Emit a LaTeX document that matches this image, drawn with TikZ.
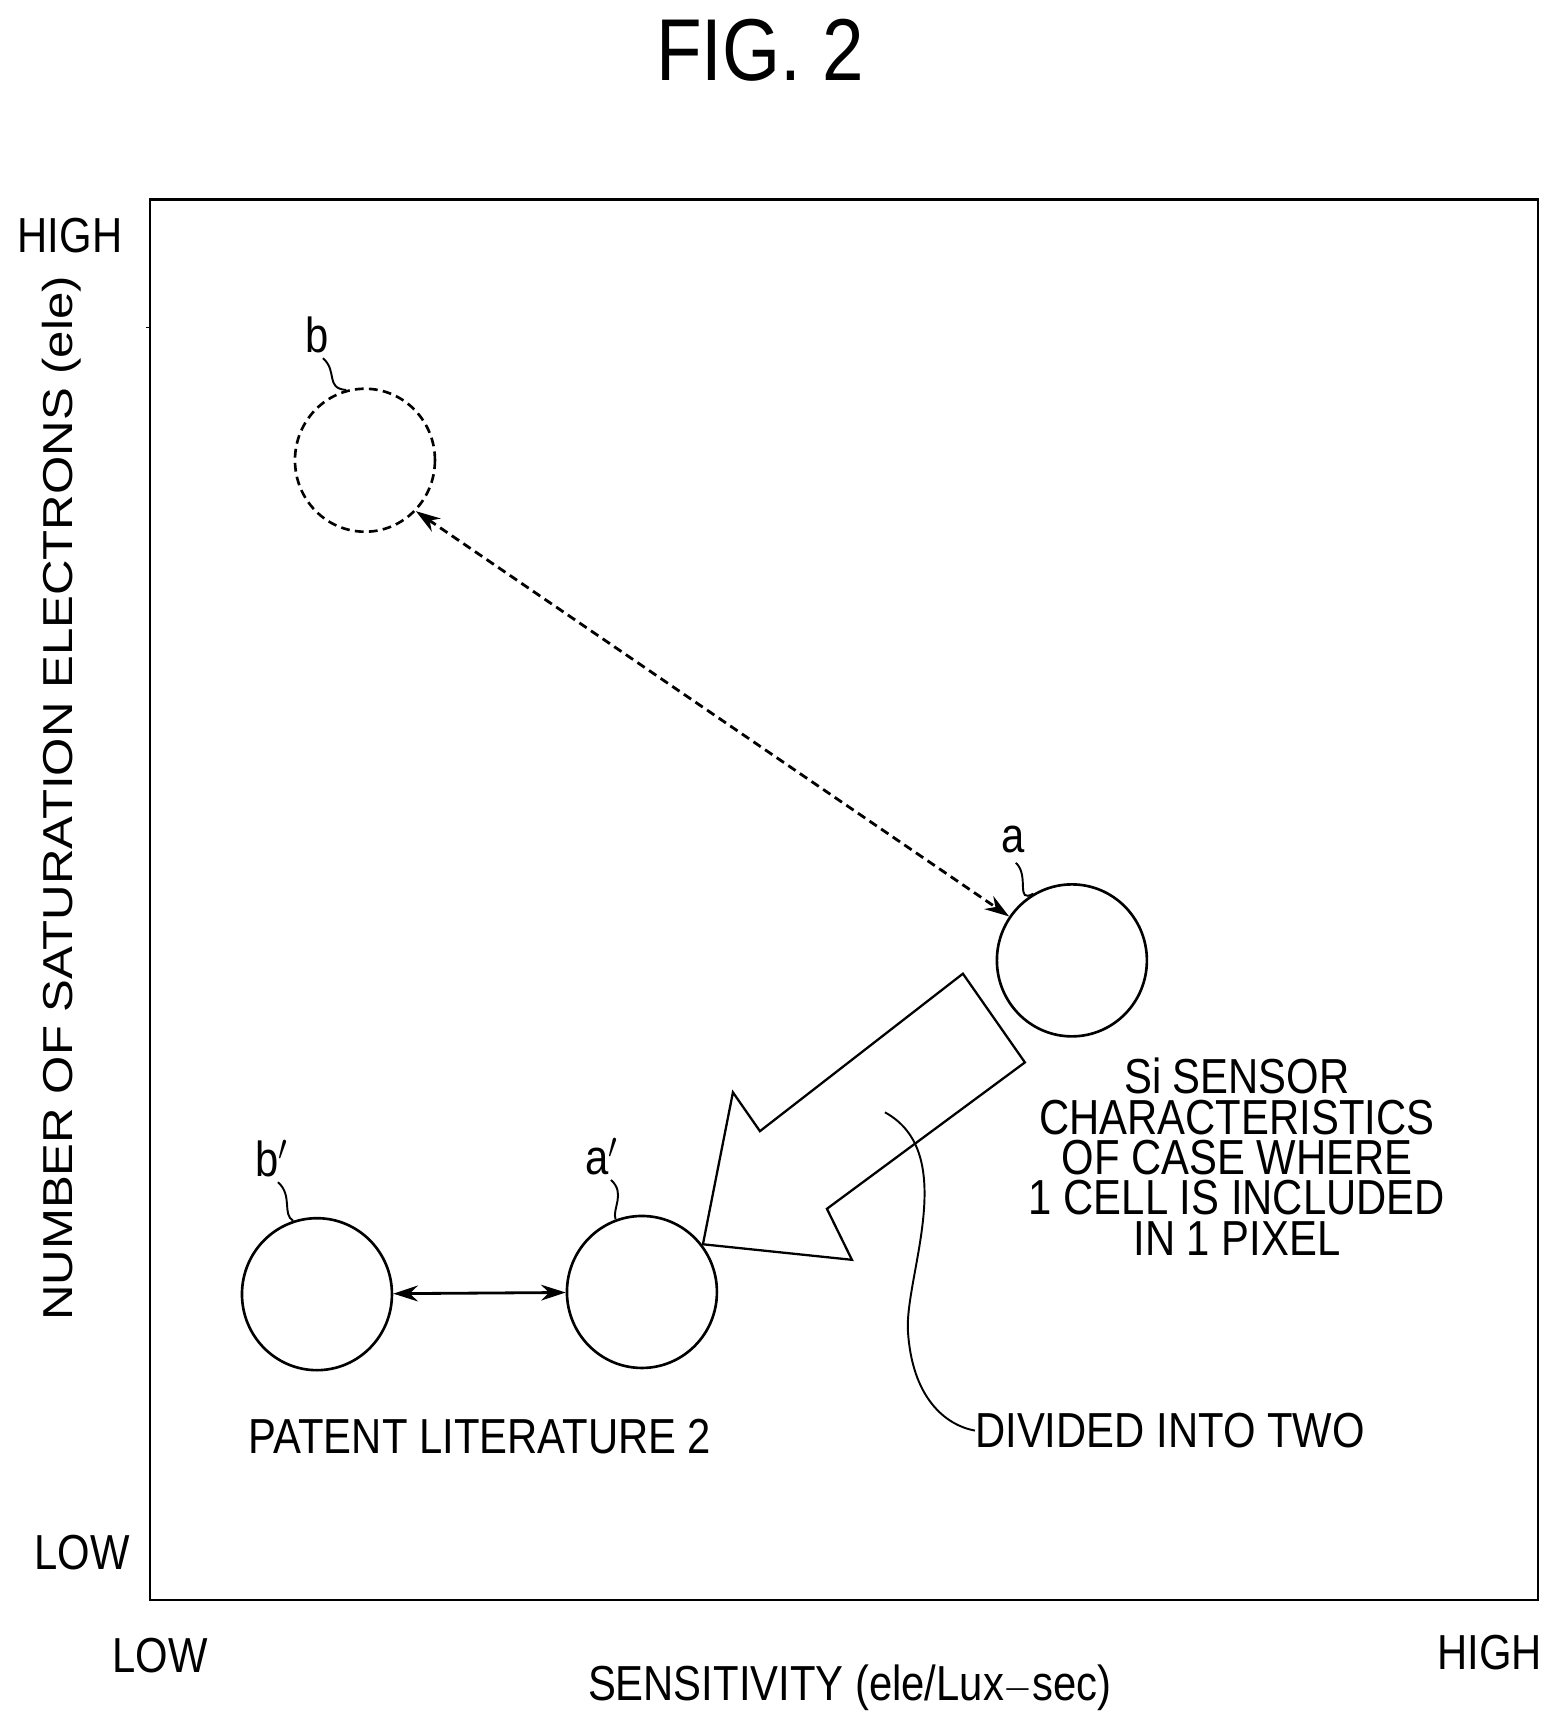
\documentclass[tikz,border=0pt]{standalone}
\usepackage{fontspec}
\setmainfont{Liberation Sans}
\usetikzlibrary{arrows.meta,shapes.geometric}

\tikzset{
  lbl/.style={font=\fontsize{28}{23}\selectfont,xscale=0.85,inner sep=0pt},
  spot/.style={draw,line width=1.5pt,ellipse,minimum width=150\unitpx,minimum height=152\unitpx,inner sep=0pt},
  lead/.style={line width=1.1pt},
  tip/.style={{Stealth[length=14pt,width=9pt]}-{Stealth[length=14pt,width=9pt]}}
}
\newcommand\unitpx{*0.02cm}

\begin{document}
\begin{tikzpicture}[x=0.02cm,y=-0.02218cm]
  \useasboundingbox (0,0) rectangle (1568,1560);
  % frame
  \draw[line width=1.3pt] (150,180) rectangle (1538,1443);
  \draw (150,295) -- (146,295);
  \node[lbl,font=\fontsize{50}{52}\selectfont] (fig) at (760,45) {FIG. 2};
  \node[lbl] (yhi) at (70,212) {HIGH};
  \node[lbl] (ylo) at (82,1400) {LOW};
  \node[lbl] (xlo) at (160,1493) {LOW};
  \node[lbl] (xhi) at (1490,1490) {HIGH};
  \node[lbl] (xlab) at (850,1522) {SENSITIVITY (ele/Lux$-$sec)};
  \node[lbl,rotate=90] (ylab) at (62,720) {NUMBER OF SATURATION ELECTRONS (ele)};

  % spots
  \node[spot,dashed,dash pattern=on 5pt off 3pt,minimum width=140\unitpx,minimum height=143\unitpx] (b) at (365,415) {};
  \node[spot] (a) at (1072,866) {};
  \node[spot] (a2) at (642,1165) {};
  \node[spot] (b2) at (317,1167) {};

  \node[lbl] (la) at (1013,757) {a};
  \node[lbl] (lb) at (317,302) {b};
  \node[lbl] (la2) at (602,1043) {a$'$};
  \node[lbl] (lb2) at (272,1045) {b$'$};
  \draw[lead] (1016,778) .. controls (1030,790) and (1015,815) .. (a.120);
  \draw[lead] (323,323) .. controls (338,335) and (325,350) .. (b.105);
  \draw[lead] (611,1064) .. controls (626,1076) and (612,1090) .. (a2.110);
  \draw[lead] (278,1066) .. controls (293,1078) and (282,1095) .. (b2.108);

  % connectors
  \draw[tip,dash pattern=on 5pt off 3pt,line width=1.6pt] (b.-45) -- (a.145);
  \draw[tip,line width=1.6pt] (b2) -- (a2);

  % big arrow
  \draw[line width=1.3pt] (963,878) -- (1025,958) -- (827,1090) -- (852,1136)
    -- (703,1122) -- (733,985) -- (760,1020) -- cycle;

  \node[lbl,align=center] (si) at (1237,1043) {Si SENSOR\\CHARACTERISTICS\\OF CASE WHERE\\1 CELL IS INCLUDED\\IN 1 PIXEL};
  \node[lbl] (pl) at (480,1295) {PATENT LITERATURE 2};
  \node[lbl,anchor=west] (div) at (975,1290) {DIVIDED INTO TWO};
  \draw[lead] (885,1003) .. controls (960,1040) and (905,1150) .. (908,1200)
    .. controls (912,1260) and (945,1285) .. (div.west);
\end{tikzpicture}
\end{document}
